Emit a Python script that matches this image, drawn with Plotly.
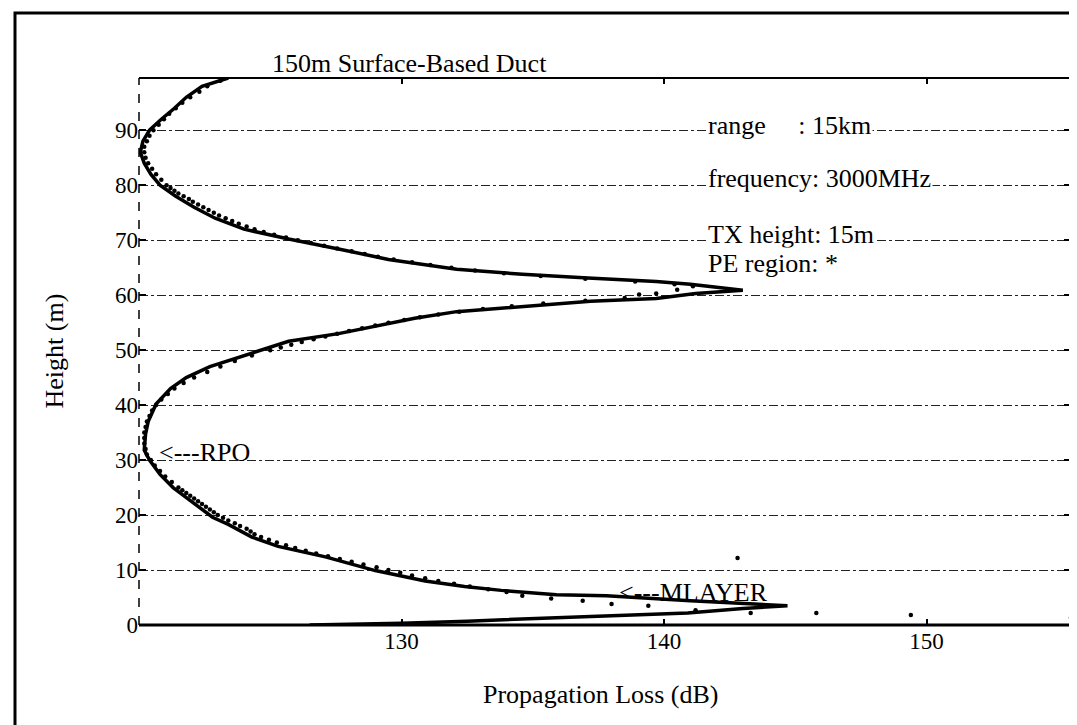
import plotly.graph_objects as go

# ---- data ----
solid_height = [99.5, 98, 96, 94, 92, 90, 88, 86, 84, 82, 80, 78, 76, 74, 72, 70.2, 68.4, 66.5,
                64.7, 63.8, 63.1, 62.5, 62.0, 61.5, 60.9, 60.3, 59.4, 58.9, 58.0, 57.0, 55.8, 54.8,
                53.0, 51.6, 49.0, 47.0, 45.0, 43.0, 40.2, 37.0, 34.7, 31.8, 30.0, 27.4, 25.0, 22.7,
                21.4, 19.6, 18.3, 16.0, 14.3, 12.4, 9.9, 8.0, 7.0, 6.3, 5.5, 5.3, 4.4, 3.9, 3.5,
                3.0, 2.2, 1.7, 1.2, 0.7, 0.3, 0.0]
solid_loss = [123.4, 122.4, 121.8, 121.35, 120.85, 120.4, 120.15, 120.05, 120.2, 120.45, 120.8,
              121.4, 122.1, 122.9, 124.0, 125.7, 127.6, 129.5, 132.1, 134.6, 137.1, 139.7, 141.0,
              142.0, 143.0, 141.2, 139.7, 137.2, 134.6, 132.1, 130.5, 129.5, 127.6, 125.7, 124.0,
              122.7, 121.8, 121.2, 120.65, 120.35, 120.25, 120.2, 120.4, 120.8, 121.3, 121.95,
              122.3, 122.8, 123.4, 124.3, 125.3, 127.1, 129.0, 130.9, 132.4, 133.8, 135.9, 137.8,
              141.0, 143.2, 144.7, 143.0, 140.9, 138.0, 135.5, 132.5, 130.0, 126.5]

pe_height = [99, 98, 97, 96, 95, 94, 93, 92, 91, 90, 89, 88, 87, 86, 85, 84, 83, 82, 81, 80,
             79.5, 79, 78.5, 78, 77.5, 77, 76.5, 76, 75.5, 75, 74.5, 74, 73.5, 73, 72.5, 72,
             71.5, 71, 70.5, 70, 69.5, 69, 68.5, 68, 67.5, 67, 66.5, 66, 65.5, 65, 64.5, 64,
             63.5, 63, 62.5, 62, 61.6, 61.0, 60.3, 60.1,
             59.5, 59, 58.5, 58, 57.5, 57, 56.5, 56, 55.5, 55, 54.5, 54, 53.5, 53, 52.5, 52,
             51.5, 51, 50.5, 50, 49, 48, 47, 46, 45, 44, 43, 42, 41, 40, 39, 38, 37, 36, 35,
             34, 33, 32, 31, 30, 29, 28, 27, 26, 25, 24.5, 24, 23.5, 23, 22.5, 22, 21.5, 21,
             20.5, 20, 19.5, 19, 18.5, 18, 17.5, 17, 16.5, 16, 15.5, 15, 14.5, 14, 13.5, 13,
             12.5, 12, 11.5, 11, 10.5, 10, 9.5, 9, 8.5, 8, 7.5, 7, 6.5, 6, 5.3, 4.8, 4.4, 3.8,
             3.5, 2.7, 2.2, 2.2, 1.8, 1.3, 12.2]
pe_loss = [123.1, 122.6, 122.3, 121.95, 121.65, 121.4, 121.15, 120.95, 120.75, 120.55, 120.4,
           120.3, 120.2, 120.2, 120.25, 120.35, 120.5, 120.65, 120.85, 121.05,
           121.2, 121.35, 121.5, 121.7, 121.9, 122.05, 122.25, 122.45, 122.65, 122.85, 123.05,
           123.3, 123.55, 123.8, 124.1, 124.4, 124.75, 125.15, 125.6, 126.05, 126.55, 127.05,
           127.55, 128.1, 128.6, 129.1, 129.7, 130.4, 131.1, 131.9, 132.8, 133.9, 135.3, 137.0,
           138.9, 140.4, 141.1, 140.5, 139.7, 139.05,
           138.5, 137.0, 135.4, 134.2, 133.1, 132.2, 131.4, 130.7, 130.1, 129.5, 129.0, 128.5,
           128.0, 127.55, 127.1, 126.65, 126.2, 125.8, 125.4, 125.0, 124.3, 123.65, 123.1,
           122.6, 122.1, 121.7, 121.35, 121.1, 120.85, 120.65, 120.5, 120.4, 120.3, 120.25,
           120.2, 120.2, 120.2, 120.25, 120.3, 120.45, 120.6, 120.8, 121.0, 121.25, 121.5,
           121.65, 121.8, 121.95, 122.1, 122.25, 122.4, 122.55, 122.7, 122.85, 123.0, 123.2,
           123.4, 123.65, 123.85, 124.1, 124.25, 124.4, 124.65, 124.95, 125.25, 125.6, 125.95,
           126.35, 126.75, 127.2, 127.65, 128.1, 128.55, 129.05, 129.5, 129.95, 130.4, 130.9,
           131.4, 132.0, 132.6, 133.3, 134.0, 134.6, 135.7, 136.9, 138.0, 139.4, 141.2, 143.3,
           145.8, 149.4, 155.5, 142.8]

x_ticks = [130, 140, 150]
y_ticks = [0, 10, 20, 30, 40, 50, 60, 70, 80, 90]

title_text = "150m Surface-Based Duct"
x_title = "Propagation Loss (dB)"
y_title = "Height (m)"
info_texts = ["range\u00a0\u00a0\u00a0\u00a0\u00a0: 15km", "frequency: 3000MHz",
              "TX height: 15m", "PE region: *"]
info_heights = [90.8, 81.2, 71.1, 65.8]
info_loss = 141.6
marker_texts = ["<---RPO", "<---MLAYER"]
marker_loss = [120.7, 138.2]
marker_heights = [31.3, 5.85]

FONT = "Liberation Serif"

fig = go.Figure()
fig.add_trace(go.Scatter(x=pe_loss, y=pe_height, mode="markers",
                         marker=dict(color="black", size=4.5), showlegend=False))
fig.add_trace(go.Scatter(x=solid_loss, y=solid_height, mode="lines",
                         line=dict(color="black", width=3.5), showlegend=False))

W, H = 1077, 725
L, R, T, B = 131, 14, 70, 108
pw = W - L - R
ph = H - T - B

def px_x(p):
    return (p - L) / pw

def px_y(p):
    return (H - B - p) / ph

fig.update_layout(
    width=W, height=H,
    margin=dict(l=L, r=R, t=T, b=B),
    paper_bgcolor="white", plot_bgcolor="white",
    font=dict(family=FONT, color="black", size=23),
    xaxis=dict(range=[120, 155.5], tickvals=x_ticks, ticks="inside", ticklen=6,
               tickwidth=2, tickcolor="black", mirror="ticks", showline=False,
               showgrid=False, zeroline=False, tickfont=dict(size=23)),
    yaxis=dict(range=[0, 99.5], tickvals=y_ticks, ticks="inside", ticklen=7,
               tickwidth=2, tickcolor="black", mirror="ticks", showline=False,
               showgrid=True, gridcolor="#222", griddash="dashdot", gridwidth=1.2,
               zeroline=False, tickfont=dict(size=23)),
)

shapes = [
    dict(type="rect", xref="paper", yref="paper", x0=px_x(7), x1=px_x(1085),
         y0=px_y(735), y1=px_y(5), line=dict(color="black", width=3)),
    dict(type="line", xref="paper", yref="paper", x0=0, x1=1, y0=1, y1=1,
         line=dict(color="black", width=2)),
    dict(type="line", xref="paper", yref="paper", x0=0, x1=1, y0=0, y1=0,
         line=dict(color="black", width=3)),
    dict(type="line", xref="paper", yref="paper", x0=0, x1=0, y0=0, y1=1,
         line=dict(color="black", width=1.5, dash="dash")),
    dict(type="line", xref="paper", yref="paper", x0=1, x1=1, y0=0, y1=1,
         line=dict(color="black", width=1.5, dash="longdash")),
]
fig.update_layout(shapes=shapes)

ann = []
ann.append(dict(text=title_text, xref="paper", yref="paper", x=px_x(401), y=px_y(55),
                xanchor="center", yanchor="middle", showarrow=False, font=dict(size=26)))
ann.append(dict(text=x_title, xref="paper", yref="paper", x=px_x(592), y=px_y(686),
                xanchor="center", yanchor="middle", showarrow=False, font=dict(size=26)))
ann.append(dict(text=y_title, xref="paper", yref="paper", x=px_x(46), y=0.5,
                xanchor="center", yanchor="middle", textangle=-90, showarrow=False,
                font=dict(size=26)))
for t, h in zip(info_texts, info_heights):
    ann.append(dict(text=t, x=info_loss, y=h, xref="x", yref="y", xanchor="left",
                    yanchor="middle", showarrow=False, bgcolor="white", font=dict(size=26)))
for t, xv, h in zip(marker_texts, marker_loss, marker_heights):
    ann.append(dict(text=t, x=xv, y=h, xref="x", yref="y", xanchor="left",
                    yanchor="middle", showarrow=False, font=dict(size=26)))
fig.update_layout(annotations=ann)

fig.write_html("out.html")
